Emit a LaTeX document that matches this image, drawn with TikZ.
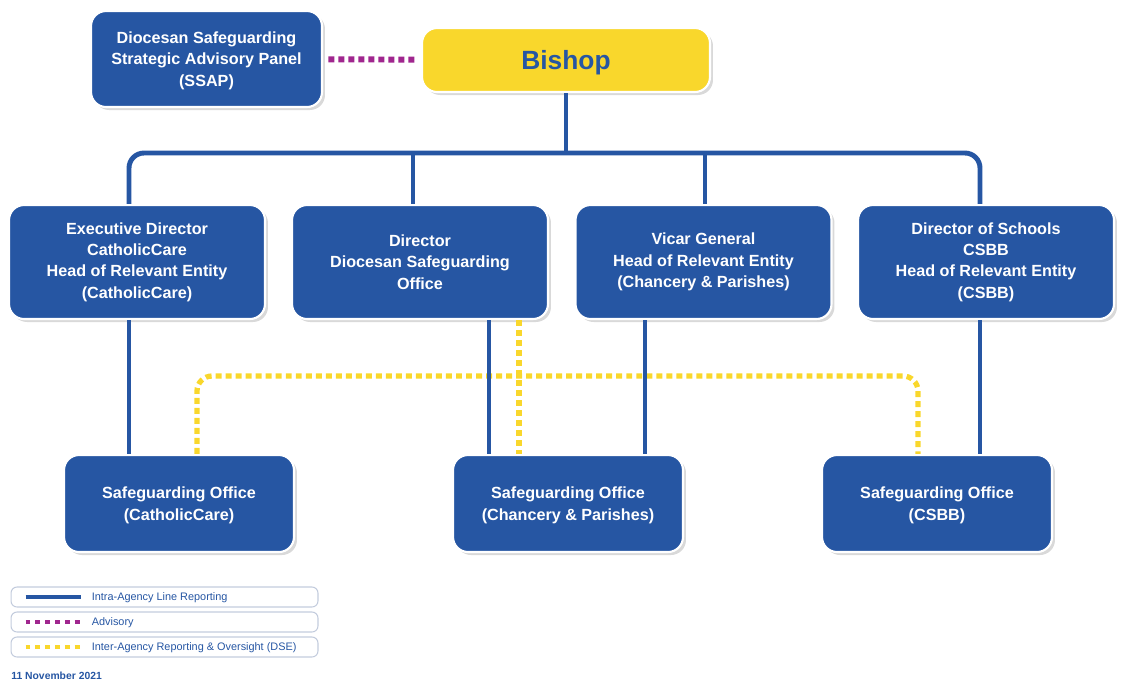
\documentclass[tikz,border=0pt]{standalone}
\usepackage{fontspec}
\setmainfont{Liberation Sans}
\usetikzlibrary{shadows}

\definecolor{dioblue}{HTML}{2656A3}
\definecolor{bishopyellow}{HTML}{F9D72C}
\definecolor{advpurple}{HTML}{A0268E}
\definecolor{keygray}{HTML}{C3CCDD}

\tikzset{
	office/.style={draw=white, line width=1.2pt, fill=dioblue, rounded corners=0.3cm, text=white, align=center,
		font=\bfseries\fontsize{9.2}{12.2}\selectfont,
		drop shadow={opacity=0.3, shadow xshift=0.06cm, shadow yshift=-0.06cm}},
	headbox/.style={office, minimum width=5.12cm, minimum height=2.28cm},
	sgbox/.style={office, text depth=0pt, minimum width=4.6cm, minimum height=1.94cm},
	reportline/.style={draw=dioblue, line width=2.8pt},
	advisory/.style={draw=advpurple, line width=3.4pt, dash pattern=on 3.4pt off 2.3pt},
	oversight/.style={draw=bishopyellow, line width=3pt, dash pattern=on 3.4pt off 2.3pt},
	keybox/.style={draw=keygray, line width=0.6pt, rounded corners=0.12cm, minimum width=6.14cm, minimum height=0.4cm},
	keytext/.style={text=dioblue, font=\fontsize{6.2}{7}\selectfont, anchor=west, inner sep=0pt, text depth=0pt}
}

\begin{document}
\begin{tikzpicture}[x=0.02cm, y=-0.02cm]
	\useasboundingbox (0,0) rectangle (1122,681);

	% top
	\node[office, text depth=0pt, minimum width=4.62cm, minimum height=1.92cm] (ssap) at (206.5,59) {Diocesan Safeguarding\\Strategic Advisory Panel\\(SSAP)};
	\node[office, fill=bishopyellow, text=dioblue, font=\bfseries\fontsize{15}{18}\selectfont, text depth=0pt, minimum width=5.76cm, minimum height=1.28cm] (bishop) at (566,60) {Bishop};

	% heads
	\node[headbox] (execdir) at (137,262) {Executive Director\\CatholicCare\\Head of Relevant Entity\\(CatholicCare)};
	\node[headbox] (dsodir) at (420,262) {Director\\Diocesan Safeguarding\\Office};
	\node[headbox] (vicar) at (703.5,262) {Vicar General\\Head of Relevant Entity\\(Chancery \& Parishes)};
	\node[headbox] (schools) at (986,262) {Director of Schools\\CSBB\\Head of Relevant Entity\\(CSBB)};

	% safeguarding offices
	\node[sgbox] (sgcc) at (179,503.5) {Safeguarding Office\\(CatholicCare)};
	\node[sgbox] (sgcp) at (568,503.5) {Safeguarding Office\\(Chancery \& Parishes)};
	\node[sgbox] (sgcsbb) at (937,503.5) {Safeguarding Office\\(CSBB)};

	\coordinate (busA) at (129,153);
	\coordinate (busB) at (413,153);
	\coordinate (busC) at (705,153);
	\coordinate (busD) at (980,153);
	\coordinate (stem) at (566,153);
	\coordinate (dropB) at (489,400);
	\coordinate (dropC) at (645,400);
	\coordinate (ovA) at (197,376);
	\coordinate (ovB) at (519,376);
	\coordinate (ovD) at (918,376);

	\draw[advisory, shorten <=3pt, shorten >=3pt] (ssap) -- (bishop);

	\draw[oversight, rounded corners=0.3cm] (ovA |- sgcc.north) -- (ovA) -- (ovD) -- (ovD |- sgcsbb.north);
	\draw[oversight] (dsodir.south -| ovB) -- (ovB |- sgcp.north);

	\draw[reportline] (bishop) -- (stem);
	\draw[reportline, rounded corners=0.3cm] (busA |- execdir.north) -- (busA) -- (busD) -- (busD |- schools.north);
	\draw[reportline] (busB) -- (busB |- dsodir.north);
	\draw[reportline] (busC) -- (busC |- vicar.north);
	\draw[reportline] (execdir.south -| busA) -- (busA |- sgcc.north);
	\draw[reportline] (dsodir.south -| dropB) -- (dropB |- sgcp.north);
	\draw[reportline] (vicar.south -| dropC) -- (dropC |- sgcp.north);
	\draw[reportline] (schools.south -| busD) -- (busD |- sgcsbb.north);

	% key
	\node[keybox] (keyline) at (164.5,597) {};
	\node[keybox] (keyadv) at (164.5,622) {};
	\node[keybox] (keyover) at (164.5,647) {};
	\draw[reportline, line width=1.8pt] ([xshift=0.3cm]keyline.west) -- ([xshift=1.42cm]keyline.west);
	\draw[advisory, line width=2.8pt, dash pattern=on 2.8pt off 2.8pt] ([xshift=0.3cm]keyadv.west) -- ([xshift=1.42cm]keyadv.west);
	\draw[oversight, line width=2.8pt, dash pattern=on 2.8pt off 2.8pt] ([xshift=0.3cm]keyover.west) -- ([xshift=1.42cm]keyover.west);
	\node[keytext] (keylinetext) at ([xshift=1.62cm]keyline.west) {Intra-Agency Line Reporting};
	\node[keytext] (keyadvtext) at ([xshift=1.62cm]keyadv.west) {Advisory};
	\node[keytext] (keyovertext) at ([xshift=1.62cm]keyover.west) {Inter-Agency Reporting \& Oversight (DSE)};

	\node[keytext, font=\bfseries\fontsize{5.9}{7}\selectfont] (date) at (11,676) {11 November 2021};
\end{tikzpicture}
\end{document}
